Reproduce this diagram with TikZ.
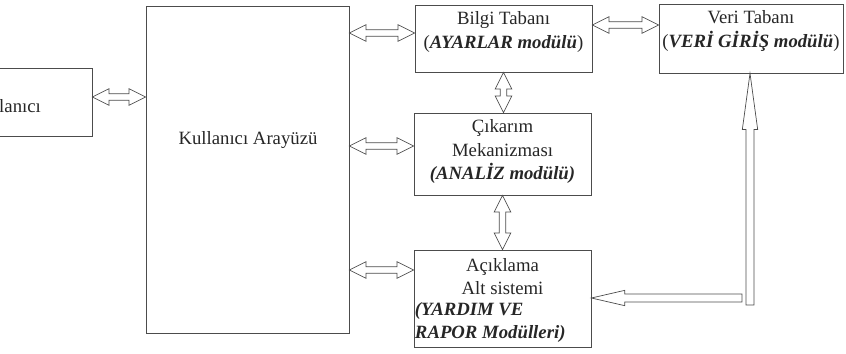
\documentclass[tikz,border=0pt]{standalone}
\usepackage{fontspec}
\setmainfont{Liberation Serif}
\usetikzlibrary{calc}

% ici bos cift ok: #1 ile #2 arasinda
\newcommand{\ciftok}[2]{%
	\coordinate (oa) at (#1);
	\coordinate (ob) at (#2);
	\coordinate (oa1) at ($(oa)!0.5cm!(ob)$);
	\coordinate (ob1) at ($(ob)!0.5cm!(oa)$);
	\draw[okcizgi] (oa) -- ($(oa1)!0.25cm!-90:(ob)$) -- ($(oa1)!0.1cm!-90:(ob)$)
		-- ($(ob1)!0.1cm!90:(oa)$) -- ($(ob1)!0.25cm!90:(oa)$) -- (ob)
		-- ($(ob1)!0.25cm!-90:(oa)$) -- ($(ob1)!0.1cm!-90:(oa)$)
		-- ($(oa1)!0.1cm!90:(ob)$) -- ($(oa1)!0.25cm!90:(ob)$) -- cycle;
}
% ici bos tek ok: #1 den #2 ye, uc boyu #3
\newcommand{\tekok}[3]{%
	\coordinate (oa) at (#1);
	\coordinate (ob) at (#2);
	\coordinate (ob1) at ($(ob)!#3!(oa)$);
	\draw[okcizgi] ($(oa)!0.12cm!90:(ob)$) -- ($(ob1)!0.12cm!-90:(oa)$)
		-- ($(ob1)!0.23cm!-90:(oa)$) -- (ob) -- ($(ob1)!0.23cm!90:(oa)$)
		-- ($(ob1)!0.12cm!90:(oa)$) -- ($(oa)!0.12cm!-90:(ob)$) -- cycle;
}

\begin{document}
\begin{tikzpicture}[x=0.03cm, y=-0.03cm,
		kutu/.style={draw=black!70, line width=0.7pt, inner sep=0pt},
		yazi/.style={text=black!85, font=\fontsize{16}{20}\selectfont, inner sep=0pt},
		okcizgi/.style={draw=black!70, line width=0.6pt, line join=miter},
	]
	\useasboundingbox (0,0) rectangle (846,353);
	\clip (0,0) rectangle (846,353);
	% kutular
	\node[kutu, minimum width=4.8cm, minimum height=2.04cm] (kul) at (12,102) {};
	\node[kutu, minimum width=6.09cm, minimum height=9.81cm] (arayuz) at (247.5,169.5) {};
	\node[kutu, minimum width=5.31cm, minimum height=2.01cm] (bilgi) at (503.5,38.5) {};
	\node[kutu, minimum width=5.31cm, minimum height=2.46cm] (cikarim) at (502.5,154) {};
	\node[kutu, minimum width=5.31cm, minimum height=2.91cm] (aciklama) at (502.5,298.5) {};
	\node[kutu, minimum width=5.52cm, minimum height=2.07cm] (veri) at (751,38.5) {};
	% yazilar
	\node[yazi] (kultxt) at (6,106) {Kullanıcı};
	\node[yazi] (arayuztxt) at (248,140) {Kullanıcı Arayüzü};
	\node[yazi, anchor=north, align=center] (bilgitxt) at ([yshift=-6pt]bilgi.north)
		{Bilgi Tabanı\\(\textbf{\textit{AYARLAR modülü}})};
	\node[yazi, anchor=north, align=center] (cikarimtxt) at ([yshift=-6pt]cikarim.north)
		{Çıkarım\\Mekanizması\\\textbf{\textit{(ANALİZ modülü)}}};
	\node[yazi, anchor=north, align=center] (aciklamatxt) at ([yshift=-7pt]aciklama.north)
		{Açıklama\\Alt sistemi};
	\node[yazi, anchor=south west, align=left] (modultxt) at ([xshift=1pt, yshift=4pt]aciklama.south west)
		{\textbf{\textit{(YARDIM VE}}\\\textbf{\textit{RAPOR Modülleri)}}};
	\node[yazi, anchor=north, align=center] (veritxt) at ([yshift=-6pt]veri.north)
		{Veri Tabanı\\(\textbf{\textit{VERİ GİRİŞ modülü}})};
	% oklar
	\ciftok{kul.east |- 0,97}{arayuz.west |- 0,97}
	\ciftok{arayuz.east |- 0,33}{bilgi.west |- 0,33}
	\ciftok{arayuz.east |- 0,146}{cikarim.west |- 0,146}
	\ciftok{arayuz.east |- 0,270}{aciklama.west |- 0,270}
	\ciftok{bilgi.east |- 0,25}{veri.west |- 0,25}
	\ciftok{bilgi.south}{bilgi.south |- cikarim.north}
	\ciftok{cikarim.south}{aciklama.north}
	\coordinate (dip) at (750,305);
	\coordinate (kose) at (742,298);
	\tekok{dip}{veri.south -| dip}{1.68cm}
	\tekok{kose}{aciklama.east |- kose}{1cm}
\end{tikzpicture}
\end{document}
